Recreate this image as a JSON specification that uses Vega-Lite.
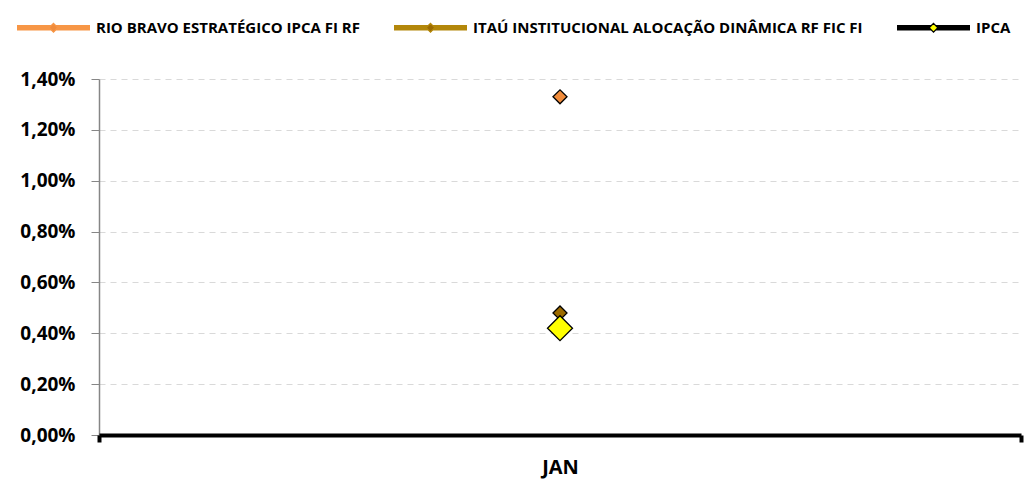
{
  "$schema": "https://vega.github.io/schema/vega-lite/v6.json",
  "width": 922,
  "height": 356,
  "autosize": "none",
  "padding": {"left": 99, "top": 79, "right": 14, "bottom": 46},
  "background": "white",
  "config": {"view": {"stroke": null}},
  "data": {
    "values": [
      {"mes": "JAN", "serie": "RIO BRAVO ESTRATÉGICO IPCA FI RF", "valor": 1.33},
      {"mes": "JAN", "serie": "ITAÚ INSTITUCIONAL ALOCAÇÃO DINÂMICA RF FIC FI", "valor": 0.48},
      {"mes": "JAN", "serie": "IPCA", "valor": 0.42}
    ]
  },
  "encoding": {
    "x": {
      "field": "mes",
      "type": "nominal",
      "scale": {"type": "band", "paddingInner": 0, "paddingOuter": 0},
      "axis": {
        "title": null,
        "labelAngle": 0,
        "labelFont": "Open Sans",
        "labelFontWeight": "bold",
        "labelFontSize": 20,
        "labelColor": "black",
        "domainColor": "black",
        "domainWidth": 4,
        "tickBand": "extent",
        "tickColor": "black",
        "tickWidth": 4,
        "tickSize": 7,
        "labelPadding": 15,
        "grid": false,
        "zindex": 1
      }
    },
    "y": {
      "field": "valor",
      "type": "quantitative",
      "scale": {"domain": [0, 1.4], "nice": false, "zero": true},
      "axis": {
        "title": null,
        "values": [0, 0.2, 0.4, 0.6, 0.8, 1.0, 1.2, 1.4],
        "labelExpr": "replace(format(datum.value, '.2f'), '.', ',') + '%'",
        "labelFont": "Open Sans",
        "labelFontWeight": "bold",
        "labelFontSize": 19,
        "labelColor": "black",
        "labelPadding": 16,
        "tickSize": 8,
        "tickColor": "#868686",
        "domainColor": "#868686",
        "domainWidth": 1.5,
        "grid": true,
        "gridColor": "#D9D9D9",
        "gridDash": [6, 5],
        "gridWidth": 1
      }
    }
  },
  "layer": [
    {
      "mark": {"type": "line", "strokeWidth": 4},
      "encoding": {
        "color": {
          "field": "serie",
          "type": "nominal",
          "scale": {
            "domain": ["RIO BRAVO ESTRATÉGICO IPCA FI RF", "ITAÚ INSTITUCIONAL ALOCAÇÃO DINÂMICA RF FIC FI", "IPCA"],
            "range": ["#F79646", "#B3870A", "#000000"]
          },
          "legend": {
            "orient": "none",
            "legendX": -83,
            "legendY": -89,
            "direction": "horizontal",
            "columns": 3,
            "title": null,
            "padding": 0,
            "symbolType": "M-1,-0.055L-0.065,-0.055M0.065,-0.055L1,-0.055M-1,-0.0275L-0.0925,-0.0275M0.0925,-0.0275L1,-0.0275M-1,0L-0.12,0M0.12,0L1,0M-1,0.0275L-0.0925,0.0275M0.0925,0.0275L1,0.0275M-1,0.055L-0.065,0.055M0.065,0.055L1,0.055M0,-0.12L0.12,0L0,0.12L-0.12,0Z",
            "symbolSize": 5329,
            "symbolStrokeWidth": 1.3,
            "symbolOpacity": 1,
            "labelFont": "Open Sans",
            "labelFontWeight": "bold",
            "labelFontSize": 15,
            "labelColor": "black",
            "labelOffset": 5,
            "columnPadding": 31,
            "labelLimit": 600
          }
        }
      }
    },
    {
      "transform": [{"filter": "datum.serie != 'IPCA'"}],
      "mark": {"type": "point", "shape": "diamond", "filled": true, "stroke": "black", "strokeWidth": 1.3, "opacity": 1, "size": 196},
      "encoding": {
        "fill": {
          "field": "serie",
          "type": "nominal",
          "scale": {
            "domain": ["RIO BRAVO ESTRATÉGICO IPCA FI RF", "ITAÚ INSTITUCIONAL ALOCAÇÃO DINÂMICA RF FIC FI", "IPCA"],
            "range": ["#F08C3C", "#9C6B00", "#FFFF00"]
          }
        }
      }
    },
    {
      "transform": [{"filter": "datum.serie == 'IPCA'"}],
      "mark": {"type": "point", "shape": "diamond", "filled": true, "stroke": "black", "strokeWidth": 1.3, "opacity": 1, "size": 625},
      "encoding": {
        "fill": {"field": "serie", "type": "nominal"}
      }
    }
  ]
}
